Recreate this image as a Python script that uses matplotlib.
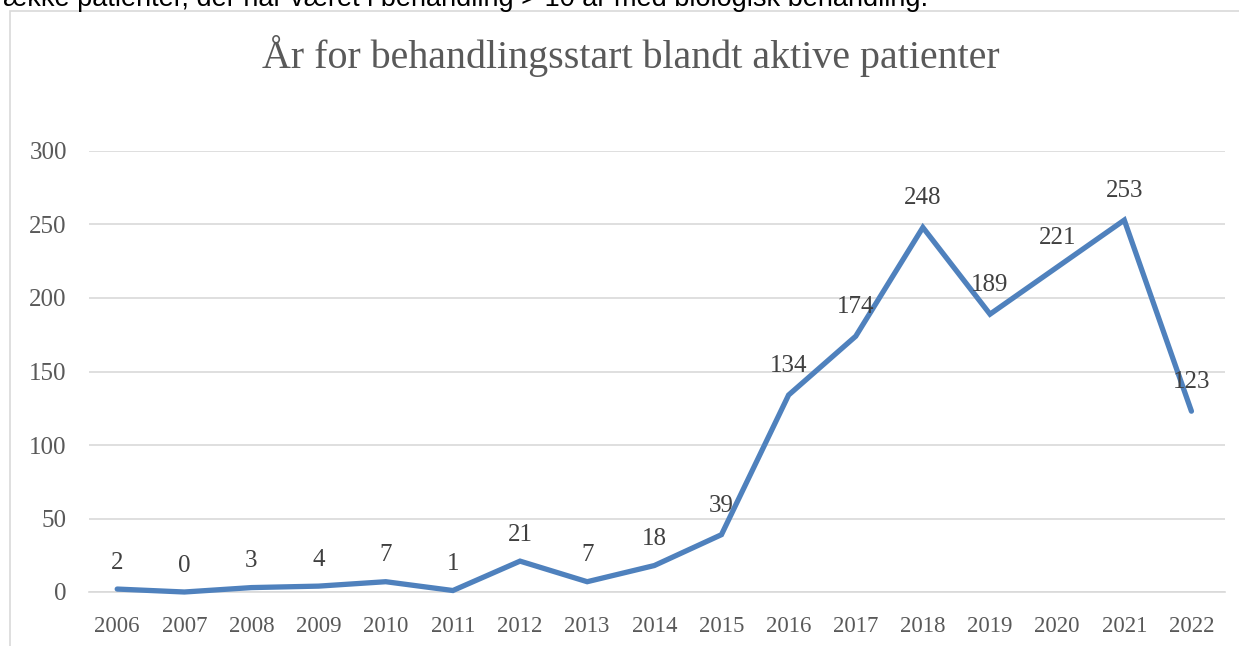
import matplotlib
matplotlib.use("Agg")
import matplotlib.pyplot as plt
from matplotlib.patches import Rectangle

years = ["2006", "2007", "2008", "2009", "2010", "2011", "2012", "2013", "2014",
         "2015", "2016", "2017", "2018", "2019", "2020", "2021", "2022"]
counts = [2, 0, 3, 4, 7, 1, 21, 7, 18, 39, 134, 174, 248, 189, 221, 253, 123]
yticks = [0, 50, 100, 150, 200, 250, 300]
title = "År for behandlingsstart blandt aktive patienter"
doc_text = "række patienter, der har været i behandling > 10 år med biologisk behandling."

W, H, DPI = 1239, 646, 100
fig = plt.figure(figsize=(W / DPI, H / DPI), dpi=DPI)
fig.patch.set_facecolor("white")

serif = "Liberation Serif"
grid_c = "#D9D9D9"
txt_c = "#595959"
lbl_c = "#404040"
line_c = "#4F81BD"

# document text cut off at the top (as in the reference)
fig.text(-6 / W, 1 - 6 / H, doc_text, family="Liberation Sans", fontsize=19.5,
         color="black", ha="left", va="baseline")

# chart frame
fig.patches.append(Rectangle((10 / W, -0.05), 1.2, 1 - 11 / H + 0.05,
                             transform=fig.transFigure, fill=False,
                             edgecolor=grid_c, linewidth=1.2, figure=fig))

ax = fig.add_axes([89 / W, 54 / H, (1225 - 89) / W, (592 - 151) / H])
x = list(range(len(years)))
ax.plot(x, counts, color=line_c, linewidth=3.8, solid_joinstyle="miter",
        solid_capstyle="round", clip_on=False, zorder=3)

for xi, v in zip(x, counts):
    off = 19 if v < 30 else 21
    ax.annotate(str(v), (xi, v), xytext=(0, off), textcoords="offset points",
                ha="center", va="center", family=serif, fontsize=18,
                color=lbl_c, zorder=4)

ax.set_xlim(-0.42, len(years) - 0.5)
ax.set_ylim(0, 300)
ax.set_yticks(yticks)
ax.set_yticklabels([str(t) for t in yticks])
ax.set_xticks(x)
ax.set_xticklabels(years)
ax.grid(axis="y", color=grid_c, linewidth=1.2, zorder=0)
ax.set_axisbelow(True)
for s in ["top", "right", "left"]:
    ax.spines[s].set_visible(False)
ax.spines["bottom"].set_color(grid_c)
ax.spines["bottom"].set_linewidth(1.2)
ax.tick_params(axis="both", length=0, colors=txt_c)
ax.tick_params(axis="x", pad=17, labelsize=16.5)
ax.tick_params(axis="y", pad=16, labelsize=18)
for lab in ax.get_xticklabels() + ax.get_yticklabels():
    lab.set_family(serif)

fig.text(631 / W, 1 - 56 / H, title, family=serif, fontsize=28.8, color=txt_c,
         ha="center", va="center")

fig.savefig("out.png", dpi=DPI)
